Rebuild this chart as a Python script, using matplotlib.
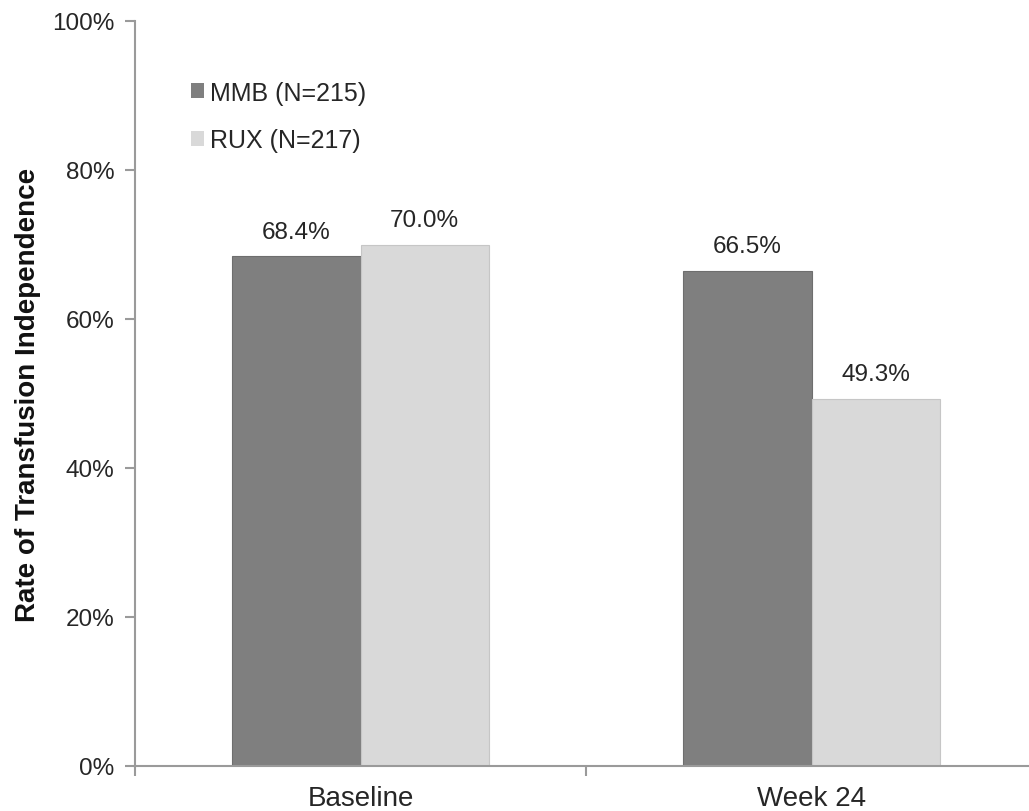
import matplotlib
matplotlib.use("Agg")
import matplotlib.pyplot as plt
from matplotlib.patches import Patch
from matplotlib.ticker import FuncFormatter

categories = ["Baseline", "Week 24"]
series_names = ["MMB (N=215)", "RUX (N=217)"]
mmb_values = [68.4, 66.5]
rux_values = [70.0, 49.3]
y_ticks = [0, 20, 40, 60, 80, 100]

colors = ["#7f7f7f", "#d9d9d9"]
edge_colors = ["#6e6e6e", "#c6c6c6"]
text_color = "#262626"
spine_color = "#9a9a9a"

plt.rcParams["font.family"] = ["Liberation Sans", "DejaVu Sans"]

W, H = 1029, 812
fig = plt.figure(figsize=(W / 100, H / 100), dpi=100)
left_px, right_px = 135, 1037
bottom_px, top_px = 767, 22
ax = fig.add_axes([left_px / W, 1 - bottom_px / H,
                   (right_px - left_px) / W, (bottom_px - top_px) / H])

bar_w = 0.285
x = list(range(len(categories)))
for i, vals in enumerate([mmb_values, rux_values]):
    offs = (i - 0.5) * bar_w
    bars = ax.bar([xi + offs for xi in x], vals, width=bar_w,
                  color=colors[i], edgecolor=edge_colors[i], linewidth=0.8,
                  label=series_names[i], zorder=2)
    for rect, v in zip(bars, vals):
        ax.annotate(f"{v:.1f}%", (rect.get_x() + rect.get_width() / 2, v),
                    xytext=(0, 10), textcoords="offset points",
                    ha="center", va="bottom", fontsize=17.5, color=text_color)

ax.set_xlim(-0.5, 1.5)
ax.set_ylim(0, 100)
ax.set_yticks(y_ticks)
ax.yaxis.set_major_formatter(FuncFormatter(lambda v, p: f"{v:.0f}%"))
ax.set_xticks([-0.5, 0.5, 1.5], minor=False)
ax.set_xticklabels(["", "", ""])
ax.set_xticks(x, minor=True)
ax.set_xticklabels(categories, minor=True)
ax.tick_params(axis="x", which="minor", length=0, labelsize=20,
               labelcolor=text_color, pad=14)
ax.tick_params(axis="x", which="major", length=7, direction="out",
               color=spine_color, width=1.5)
ax.tick_params(axis="y", length=7, direction="out", color=spine_color,
               width=1.5, labelsize=17.5, labelcolor=text_color, pad=8)

for s in ["top", "right"]:
    ax.spines[s].set_visible(False)
for s in ["left", "bottom"]:
    ax.spines[s].set_color(spine_color)
    ax.spines[s].set_linewidth(1.5)

ax.set_ylabel("Rate of Transfusion Independence", fontsize=20,
              fontweight="bold", color="#111111", labelpad=8)

handles = [Patch(facecolor=c, edgecolor="none") for c in colors]
leg = fig.legend(handles, series_names, loc="upper left",
                 bbox_to_anchor=(178 / W, 1 - 69 / H), frameon=False,
                 fontsize=18, handlelength=0.55, handleheight=0.55,
                 handletextpad=0.25, labelspacing=0.95, borderpad=0)
for t in leg.get_texts():
    t.set_color(text_color)

fig.savefig("out.png", dpi=100)
